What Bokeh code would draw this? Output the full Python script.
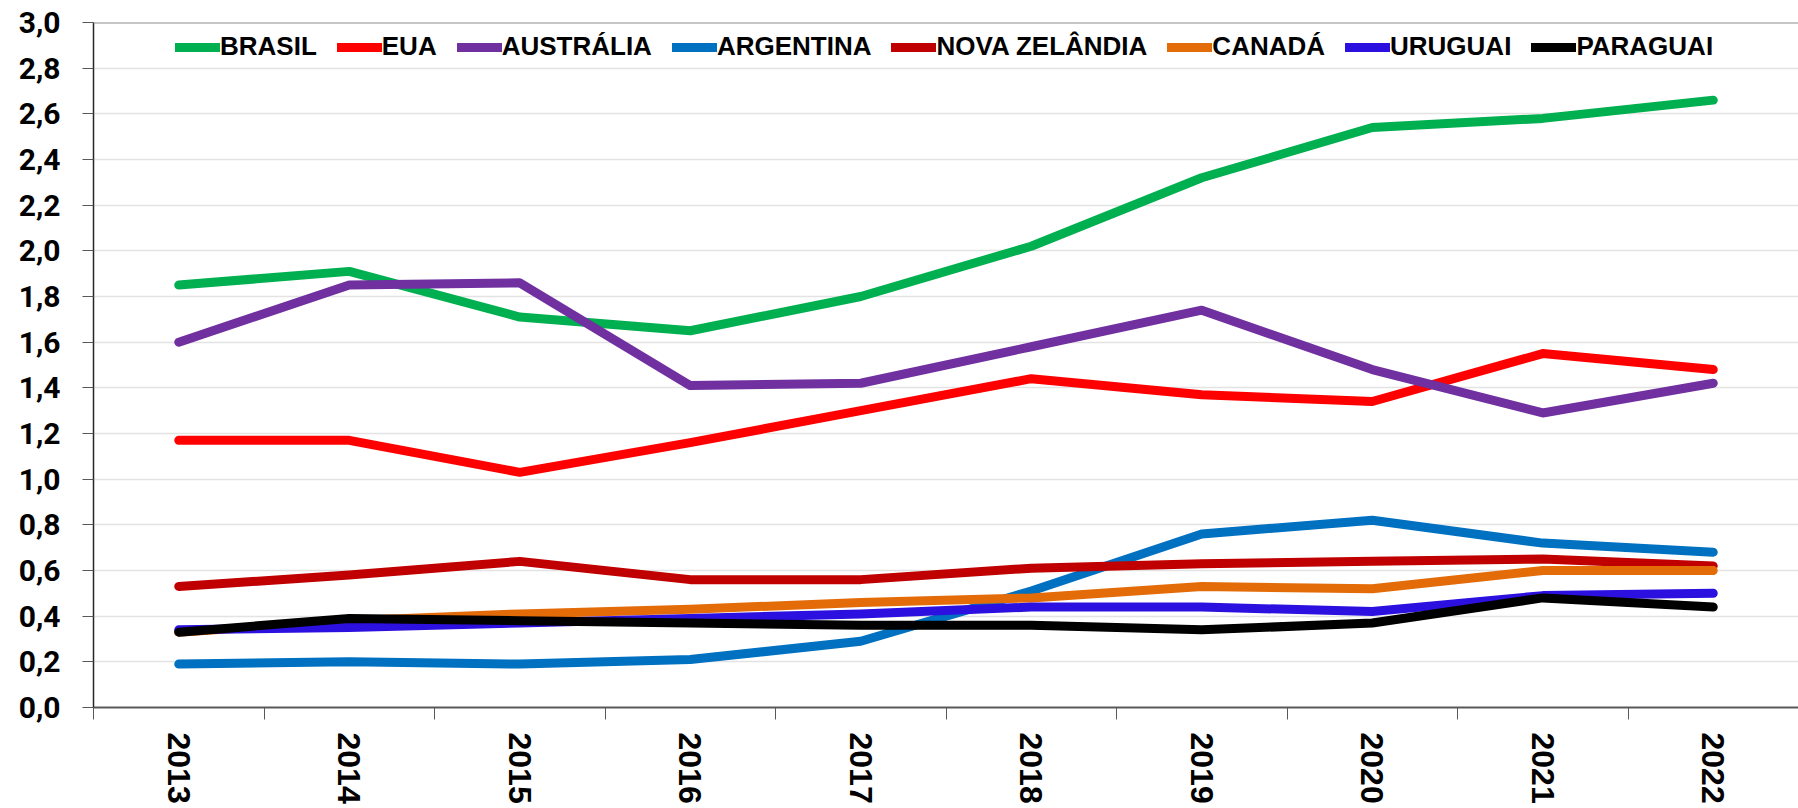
from bokeh.plotting import figure
from bokeh.models import (Range1d, FixedTicker, CustomJSTickFormatter, Legend, LegendItem, Span)
from bokeh.embed import file_html
from bokeh.resources import INLINE

years = [2013, 2014, 2015, 2016, 2017, 2018, 2019, 2020, 2021, 2022]
brasil = [1.85, 1.91, 1.71, 1.65, 1.80, 2.02, 2.32, 2.54, 2.58, 2.66]
eua = [1.17, 1.17, 1.03, 1.16, 1.30, 1.44, 1.37, 1.34, 1.55, 1.48]
australia = [1.60, 1.85, 1.86, 1.41, 1.42, 1.58, 1.74, 1.48, 1.29, 1.42]
argentina = [0.19, 0.20, 0.19, 0.21, 0.29, 0.51, 0.76, 0.82, 0.72, 0.68]
nova_zelandia = [0.53, 0.58, 0.64, 0.56, 0.56, 0.61, 0.63, 0.64, 0.65, 0.62]
canada = [0.33, 0.38, 0.41, 0.43, 0.46, 0.48, 0.53, 0.52, 0.60, 0.60]
uruguai = [0.34, 0.35, 0.37, 0.39, 0.41, 0.44, 0.44, 0.42, 0.49, 0.50]
paraguai = [0.33, 0.39, 0.38, 0.37, 0.36, 0.36, 0.34, 0.37, 0.48, 0.44]

series = [
    ("BRASIL", brasil, "#00B050"),
    ("EUA", eua, "#FF0000"),
    ("AUSTRÁLIA", australia, "#7030A0"),
    ("ARGENTINA", argentina, "#0070C0"),
    ("NOVA ZELÂNDIA", nova_zelandia, "#C00000"),
    ("CANADÁ", canada, "#E36C09"),
    ("URUGUAI", uruguai, "#2C10E0"),
    ("PARAGUAI", paraguai, "#000000"),
]

y_min, y_max = 0.0, 3.0
y_ticks = [round(i * 0.2, 1) for i in range(16)]

p = figure(width=1798, height=808, output_backend="svg", toolbar_location=None,
           x_range=Range1d(years[0] - 0.5, years[-1] + 0.5),
           y_range=Range1d(y_min, y_max),
           min_border_left=93, min_border_right=0, min_border_top=22, min_border_bottom=101)
p.outline_line_color = None
p.background_fill_color = "white"

items = []
for name, vals, col in series:
    r = p.line(years, vals, line_color=col, line_width=9, line_cap="round", line_join="round")
    items.append(LegendItem(label=name, renderers=[r]))

p.add_layout(Span(location=y_max, dimension="width", line_color="#8c8c8c", line_width=2))

# x axis
p.xaxis.ticker = FixedTicker(ticks=years, minor_ticks=[y - 0.5 for y in years] + [years[-1] + 0.5])
p.xaxis.major_label_overrides = {y: str(y) for y in years}
p.xaxis.major_tick_out = 0
p.xaxis.major_tick_in = 0
p.xaxis.minor_tick_out = 12
p.xaxis.minor_tick_in = 0
p.xaxis.minor_tick_line_color = "#595959"
p.xaxis.minor_tick_line_width = 1
p.xaxis.axis_line_color = "#595959"
p.xaxis.axis_line_width = 2
p.xaxis.major_label_orientation = "vertical"
p.xaxis.major_label_standoff = 13
p.xaxis.major_label_text_font = "Liberation Sans"
p.xaxis.major_label_text_font_style = "bold"
p.xaxis.major_label_text_font_size = "32px"
p.xaxis.major_label_text_color = "black"
p.xgrid.grid_line_color = None

# y axis
p.yaxis.ticker = FixedTicker(ticks=y_ticks)
p.yaxis.formatter = CustomJSTickFormatter(code="return tick.toFixed(1).replace('.', ',');")
p.yaxis.major_tick_out = 11
p.yaxis.major_tick_in = 0
p.yaxis.minor_tick_out = 0
p.yaxis.minor_tick_in = 0
p.yaxis.major_tick_line_color = "#595959"
p.yaxis.axis_line_color = "#262626"
p.yaxis.axis_line_width = 1.5
p.yaxis.major_label_standoff = 22
p.yaxis.major_label_text_font = "Roboto"
p.yaxis.major_label_text_font_style = "bold"
p.yaxis.major_label_text_font_size = "30px"
p.yaxis.major_label_text_color = "black"
p.ygrid.grid_line_color = "#e3e3e3"
p.ygrid.grid_line_width = 1.5

legend = Legend(items=items, orientation="horizontal", location=(82, 645),
                padding=0, margin=0, spacing=20, label_standoff=0,
                glyph_width=45, glyph_height=30, label_height=30,
                background_fill_alpha=0, border_line_alpha=0,
                label_text_font="Liberation Sans", label_text_font_style="bold",
                label_text_font_size="26px", label_text_color="black")
p.add_layout(legend)

open("out.html", "w").write(file_html(p, INLINE))
